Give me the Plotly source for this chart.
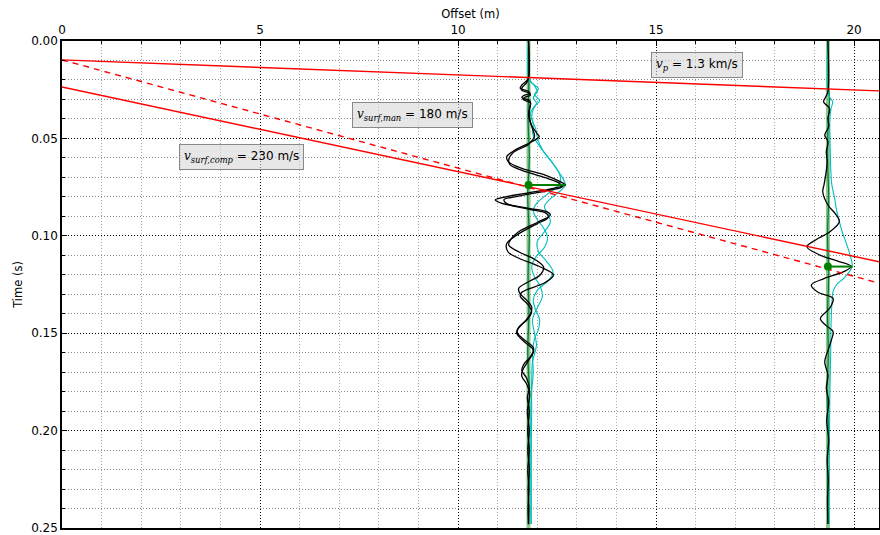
import plotly.graph_objects as go

# ---------------- data ----------------
X_MAX = 20.63
X_TICKS = [0, 5, 10, 15, 20]
Y_TICKS = [0.00, 0.05, 0.10, 0.15, 0.20, 0.25]
Y_TICK_LABELS = ['0.00', '0.05', '0.10', '0.15', '0.20', '0.25']

# travel-time lines (offset m, time s)
VP_X = [0.0, 20.63]
VP_T = [0.0097, 0.0256]
MAN_X = [0.0, 20.63]
MAN_T = [0.0097, 0.1243]
COMP_X = [0.0, 20.63]
COMP_T = [0.0236, 0.1133]

# receiver positions (m)
REC1 = 11.78
REC2 = 19.34

# picked arrivals: (time, offset reached by horizontal pick line)
PICK1_T = 0.0739
PICK1_END = 12.70
PICK2_T = 0.1158
PICK2_END = 19.96

# trace 1 black A
T1_BA_T = [0, 0.0185, 0.0205, 0.0226, 0.0243, 0.0257, 0.0269, 0.0281, 0.0291, 0.0308, 0.0337, 0.0380,
           0.0431, 0.0474, 0.0491, 0.0517, 0.0560, 0.0594, 0.0619, 0.0654, 0.0688, 0.0722, 0.0739, 0.0756,
           0.0782, 0.0804, 0.0816, 0.0833, 0.0859, 0.0876, 0.0893, 0.0928, 0.0979, 0.1022, 0.1047, 0.1082,
           0.1120, 0.1160, 0.1200, 0.1236, 0.1270, 0.1295, 0.1330, 0.1365, 0.1400, 0.1441, 0.1480, 0.1500,
           0.1530, 0.1578, 0.1620, 0.1660, 0.1690, 0.1730, 0.1780, 0.1830, 0.1900, 0.2000, 0.2100, 0.2200,
           0.2300, 0.2400, 0.2480]
T1_BA_A = [0, 0, -0.05, -0.17, -0.21, -0.02, 0.04, -0.13, -0.17, 0.04, 0.04, 0.00,
           0.07, 0.21, 0.27, 0.08, -0.34, -0.55, -0.51, -0.17, 0.42, 0.80, 0.93, 0.63,
           -0.08, -0.67, -0.84, -0.67, 0.00, 0.46, 0.55, 0.25, -0.25, -0.46, -0.50, -0.25,
           0.15, 0.38, 0.30, 0.00, -0.25, -0.22, -0.05, 0.08, 0.05, -0.10, -0.27, -0.28,
           -0.13, 0.13, 0.05, -0.12, -0.17, -0.05, 0.02, -0.03, 0.02, -0.02, 0.02, -0.02,
           0.01, -0.01, 0]
# trace 1 black B
T1_BB_T = [0, 0.0190, 0.0215, 0.0236, 0.0252, 0.0266, 0.0278, 0.0290, 0.0300, 0.0318, 0.0350, 0.0400,
           0.0450, 0.0490, 0.0530, 0.0575, 0.0610, 0.0635, 0.0665, 0.0700, 0.0730, 0.0748, 0.0765, 0.0790,
           0.0800, 0.0815, 0.0835, 0.0865, 0.0885, 0.0905, 0.0940, 0.0990, 0.1040, 0.1082, 0.1110, 0.1160,
           0.1201, 0.1240, 0.1290, 0.1310, 0.1356, 0.1390, 0.1430, 0.1470, 0.1500, 0.1545, 0.1590, 0.1640,
           0.1690, 0.1720, 0.1760, 0.1810, 0.1900, 0.2000, 0.2100, 0.2200, 0.2300, 0.2400, 0.2480]
T1_BB_A = [0, 0, -0.05, -0.15, -0.18, 0.00, 0.05, -0.10, -0.14, 0.05, 0.02, 0.03,
           0.10, 0.15, 0.00, -0.40, -0.50, -0.47, -0.15, 0.40, 0.78, 0.85, 0.55, -0.10,
           -0.35, -0.62, -0.55, 0.05, 0.45, 0.50, 0.20, -0.25, -0.55, -0.52, -0.30, 0.30,
           0.63, 0.42, -0.17, -0.21, 0.00, 0.08, -0.03, -0.25, -0.30, -0.10, 0.13, 0.00,
           -0.15, -0.17, -0.05, 0.03, -0.03, 0.02, -0.02, 0.02, -0.01, 0.01, 0]
# trace 1 cyan A
T1_CA_T = [0, 0.0185, 0.0205, 0.0230, 0.0260, 0.0290, 0.0320, 0.0350, 0.0390, 0.0430, 0.0470, 0.0510,
           0.0560, 0.0610, 0.0660, 0.0700, 0.0739, 0.0770, 0.0810, 0.0850, 0.0890, 0.0930, 0.0980, 0.1030,
           0.1080, 0.1130, 0.1185, 0.1230, 0.1280, 0.1330, 0.1380, 0.1430, 0.1480, 0.1530, 0.1600, 0.1700,
           0.1800, 0.1900, 0.2100, 0.2300, 0.2480]
T1_CA_A = [0, 0, 0.05, 0.15, 0.22, 0.12, 0.20, 0.12, 0.08, 0.12, 0.10, 0.18,
           0.35, 0.55, 0.72, 0.85, 0.93, 0.80, 0.55, 0.40, 0.50, 0.55, 0.40, 0.22,
           0.25, 0.45, 0.62, 0.50, 0.22, 0.12, 0.18, 0.28, 0.25, 0.15, 0.10, 0.12,
           0.08, 0.08, 0.07, 0.07, 0.07]
# trace 1 cyan B
T1_CB_T = [0, 0.0190, 0.0215, 0.0245, 0.0275, 0.0305, 0.0335, 0.0370, 0.0410, 0.0450, 0.0490, 0.0530,
           0.0580, 0.0630, 0.0680, 0.0720, 0.0750, 0.0790, 0.0830, 0.0870, 0.0910, 0.0960, 0.1010, 0.1060,
           0.1110, 0.1160, 0.1210, 0.1260, 0.1310, 0.1370, 0.1430, 0.1500, 0.1560, 0.1650, 0.1750, 0.1900,
           0.2100, 0.2300, 0.2480]
T1_CB_A = [0, 0, 0.08, 0.25, 0.15, 0.28, 0.15, 0.05, 0.10, 0.18, 0.22, 0.28,
           0.42, 0.62, 0.78, 0.80, 0.70, 0.45, 0.22, 0.12, 0.20, 0.38, 0.48, 0.40,
           0.18, 0.08, 0.15, 0.30, 0.35, 0.22, 0.10, 0.15, 0.20, 0.10, 0.08, 0.06,
           0.06, 0.06, 0.06]
# trace 1 green (third component)
T1_G_T = [0, 0.02, 0.04, 0.06, 0.08, 0.10, 0.12, 0.14, 0.16, 0.18, 0.20, 0.22, 0.24, 0.248]
T1_G_A = [0, 0.01, -0.01, 0.02, -0.02, 0.02, -0.01, 0.01, -0.02, 0.02, -0.01, 0.02, -0.01, 0]

# trace 2 black
T2_B_T = [0, 0.0260, 0.0285, 0.0312, 0.0346, 0.0397, 0.0440, 0.0483, 0.0517, 0.0568, 0.0620, 0.0680,
          0.0740, 0.0774, 0.0842, 0.0890, 0.0927, 0.0979, 0.1020, 0.1056, 0.1099, 0.1130, 0.1158, 0.1184,
          0.1220, 0.1253, 0.1290, 0.1321, 0.1370, 0.1424, 0.1460, 0.1492, 0.1540, 0.1578, 0.1647, 0.1715,
          0.1784, 0.1850, 0.1950, 0.2050, 0.2150, 0.2250, 0.2350, 0.2480]
T2_B_A = [0, 0, -0.05, -0.11, 0.04, 0.00, 0.02, -0.08, 0.00, -0.04, -0.02, -0.05,
          -0.10, -0.13, 0.00, 0.20, 0.29, 0.05, -0.30, -0.53, -0.20, 0.25, 0.59, 0.40,
          -0.10, -0.42, -0.25, 0.13, 0.05, -0.19, -0.05, 0.13, 0.08, 0.02, -0.08, 0.00,
          -0.04, 0.02, -0.03, 0.02, -0.02, 0.01, -0.01, 0]
# trace 2 cyan
T2_C_T = [0, 0.0260, 0.0290, 0.0312, 0.0346, 0.0397, 0.0480, 0.0568, 0.0650, 0.0739, 0.0808, 0.0870,
          0.0927, 0.0979, 0.1047, 0.1100, 0.1158, 0.1218, 0.1250, 0.1287, 0.1350, 0.1450, 0.1600, 0.1800,
          0.2000, 0.2200, 0.2480]
T2_C_A = [0, 0, 0.05, 0.12, 0.08, 0.05, 0.05, 0.06, 0.07, 0.10, 0.17, 0.22,
          0.29, 0.36, 0.48, 0.56, 0.61, 0.40, 0.22, 0.13, 0.10, 0.08, 0.07, 0.05,
          0.04, 0.03, 0.03]
# trace 2 green
T2_G_T = [0, 0.02, 0.03, 0.04, 0.06, 0.08, 0.10, 0.12, 0.14, 0.16, 0.18, 0.20, 0.22, 0.24, 0.248]
T2_G_A = [0, 0.0, 0.04, 0.01, -0.01, 0.02, -0.01, 0.02, -0.01, 0.01, -0.02, 0.01, -0.01, 0.01, 0]

# ---------------- figure ----------------
fig = go.Figure()

def add_line(x, y, color, width, dash=None, shape='linear'):
    fig.add_trace(go.Scatter(x=x, y=y, mode='lines',
                             line=dict(color=color, width=width, dash=dash, shape=shape,
                                       smoothing=1.0 if shape == 'spline' else None),
                             hoverinfo='skip', showlegend=False))

# light green receiver lines
for rec in (REC1, REC2):
    add_line([rec, rec], [0, 0.25], 'rgba(0,128,0,0.45)', 4)

def trace(base, ts, amps, color, width):
    add_line([base + a for a in amps], ts, color, width, shape='spline')

trace(REC1, T1_G_T, T1_G_A, '#007a3d', 1.2)
trace(REC1, T1_CA_T, T1_CA_A, '#00bfbf', 1.1)
trace(REC1, T1_CB_T, T1_CB_A, '#00bfbf', 1.1)
trace(REC1, T1_BA_T, T1_BA_A, '#000000', 1.3)
trace(REC1, T1_BB_T, T1_BB_A, '#000000', 1.3)

trace(REC2, T2_G_T, T2_G_A, '#007a3d', 1.2)
trace(REC2, T2_C_T, T2_C_A, '#00bfbf', 1.1)
trace(REC2, T2_B_T, T2_B_A, '#000000', 1.3)

# travel-time lines
add_line(VP_X, VP_T, '#ff0000', 1.4)
add_line(COMP_X, COMP_T, '#ff0000', 1.4)
add_line(MAN_X, MAN_T, '#ff0000', 1.4, dash='6px,5px')

# picks
for rec, pt, pe in ((REC1, PICK1_T, PICK1_END), (REC2, PICK2_T, PICK2_END)):
    add_line([rec, pe], [pt, pt], '#008000', 2)
    fig.add_trace(go.Scatter(x=[rec], y=[pt], mode='markers',
                             marker=dict(color='#008000', size=8, line=dict(width=0)),
                             hoverinfo='skip', showlegend=False))

MATH = 'font-family:DejaVu Serif'
ann_style = dict(showarrow=False, bgcolor='rgba(215,215,215,0.6)', bordercolor='#888888',
                 borderwidth=1, borderpad=4, font=dict(family='DejaVu Sans', size=12, color='#000'))
fig.add_annotation(x=8.86, y=0.038, xref='x', yref='y',
                   text=f'<span style="{MATH}"><i>v</i><sub><i>surf,man</i></sub></span> = 180 m/s', **ann_style)
fig.add_annotation(x=4.52, y=0.0595, xref='x', yref='y',
                   text=f'<span style="{MATH}"><i>v</i><sub><i>surf,comp</i></sub></span> = 230 m/s', **ann_style)
fig.add_annotation(x=16.04, y=0.0121, xref='x', yref='y',
                   text=f'<span style="{MATH}"><i>v</i><sub><i>p</i></sub></span> = 1.3 km/s', **ann_style)

DOTS = '1px,2px'
fig.update_layout(
    width=880, height=535,
    margin=dict(l=62, r=1, t=41, b=7, autoexpand=False),
    paper_bgcolor='white', plot_bgcolor='white',
    font=dict(family='DejaVu Sans', size=12, color='#000'),
    xaxis=dict(range=[0, X_MAX], side='top', tickmode='array', tickvals=X_TICKS,
               ticktext=[str(v) for v in X_TICKS], automargin=False, ticklabeloverflow='allow',
               showline=True, linecolor='#000', linewidth=1.5, mirror=True,
               ticks='inside', ticklen=5, tickcolor='#000',
               showgrid=True, gridcolor='#000', griddash=DOTS, gridwidth=1,
               zeroline=False,
               title=dict(text='Offset (m)', font=dict(size=11.5), standoff=2),
               tickfont=dict(size=12),
               minor=dict(tick0=0, dtick=1, ticks='inside', ticklen=3, tickcolor='#000',
                          showgrid=True, gridcolor='#a8a8a8', griddash=DOTS, gridwidth=1)),
    yaxis=dict(range=[0.25, 0], tickmode='array', tickvals=Y_TICKS, ticktext=Y_TICK_LABELS,
               automargin=False, ticklabeloverflow='allow',
               showline=True, linecolor='#000', linewidth=1.5, mirror=True,
               ticks='inside', ticklen=5, tickcolor='#000',
               showgrid=True, gridcolor='#000', griddash=DOTS, gridwidth=1,
               zeroline=False,
               title=dict(text='Time (s)', font=dict(size=11.5), standoff=6),
               tickfont=dict(size=12),
               minor=dict(tick0=0, dtick=0.01, ticks='inside', ticklen=3, tickcolor='#000',
                          showgrid=True, gridcolor='#8c8c8c', griddash=DOTS, gridwidth=1)),
)

fig.write_html('out.html', config={'displayModeBar': False},
               post_script="document.body.style.margin='0';")
